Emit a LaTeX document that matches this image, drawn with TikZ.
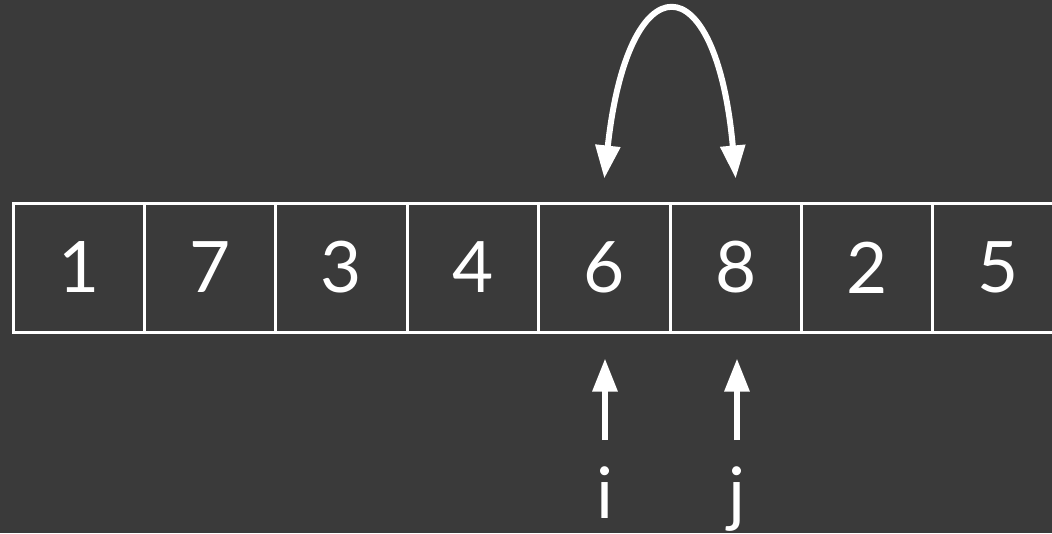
\documentclass[tikz,border=0pt]{standalone}
\usepackage{fontspec}
\setmainfont{Lato}
\usetikzlibrary{arrows.meta}
\definecolor{board}{RGB}{58,58,58}
\begin{document}
\begin{tikzpicture}[x=1pt, y=-1pt,
  cell/.style={draw=white, line width=3pt, minimum width=131.4pt,
               minimum height=129pt, inner sep=0pt, text=white,
               font=\fontsize{71}{80}\selectfont},
  idx/.style={text=white, inner sep=0pt, anchor=base,
              font=\fontsize{71}{80}\selectfont},
  arr/.style={-{Triangle[length=33pt, width=24pt]}, white, line width=6pt}
]
  \fill[board] (0,0) rectangle (1052,533);
  \useasboundingbox (0,0) rectangle (1052,533);

  \foreach \v [count=\k] in {1,7,3,4,6,8,2,5}
    \node[cell] (c\k) at ({13+131.4*(\k-0.5)},267.5) {\v};

  \node[idx] (li) at (605,518) {i};
  \node[idx] (lj) at (737,518) {j};

  \draw[arr, {Triangle[length=33pt, width=24pt]}-{Triangle[length=33pt, width=24pt]}]
    ([yshift=23pt]c5.north) .. controls (628,-40) and (716,-40) .. ([yshift=23pt]c6.north);
  \draw[arr, shorten <=26pt, shorten >=25pt] (li.north) -- (li.north |- c5.south);
  \draw[arr, shorten <=26pt, shorten >=25pt] (lj.north) -- (lj.north |- c6.south);
\end{tikzpicture}
\end{document}
